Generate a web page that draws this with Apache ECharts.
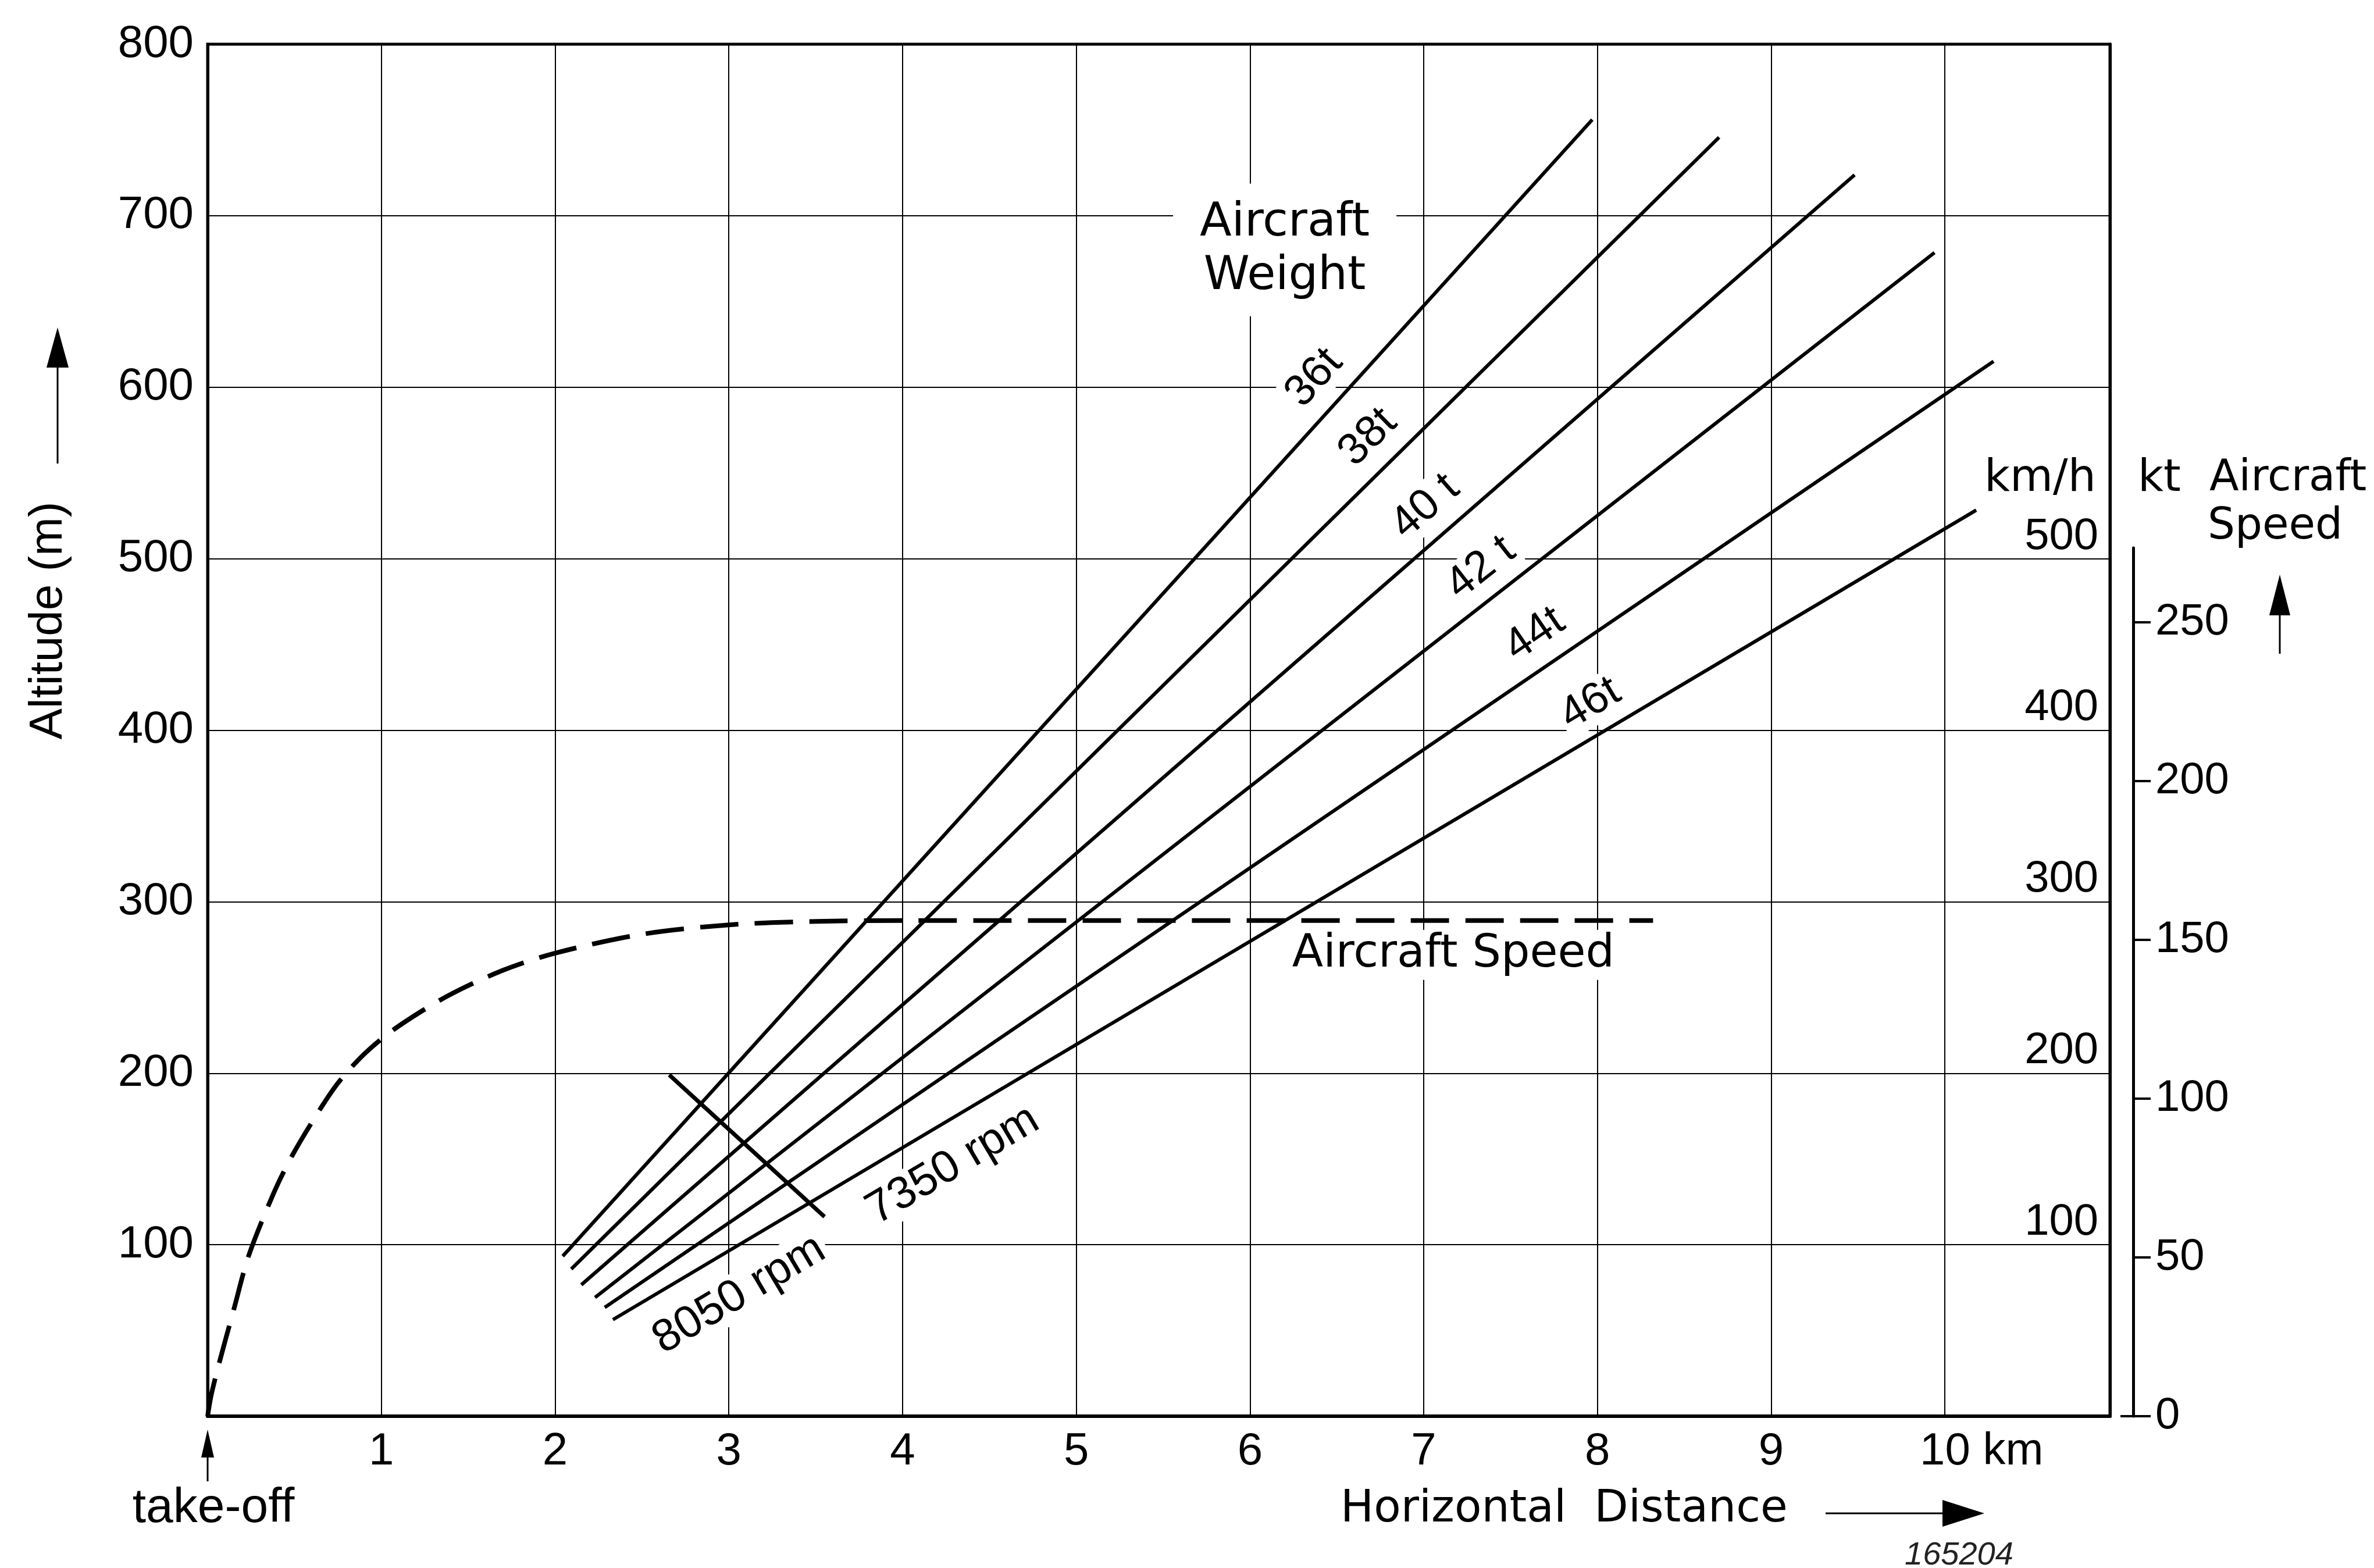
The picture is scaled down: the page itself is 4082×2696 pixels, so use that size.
<!DOCTYPE html>
<html>
<head>
<meta charset="utf-8">
<title>Take-off climb paths</title>
<script src="https://cdn.jsdelivr.net/npm/echarts@6/dist/echarts.min.js"></script>
<style>
  html, body { margin: 0; padding: 0; background: #fff; }
  #chart { width: 4082px; height: 2696px; }
</style>
</head>
<body>
<div id="chart"></div>
<script>
// climb path per aircraft weight: [km, m]
var weightNames = ['36t', '38t', '40 t', '42 t', '44t', '46t'];
var weightStart = [[2.044, 93.3], [2.093, 85.8], [2.151, 76.6], [2.230, 69.2], [2.286, 63.4], [2.333, 56.3]];
var weightEnd = [[7.97, 756], [8.70, 745.7], [9.48, 723.8], [9.94, 678.5], [10.28, 615.1], [10.18, 528.3]];

// aircraft speed (km/h, same scale as altitude in m) against distance (km)
var speedDist = [0, 0.02, 0.064, 0.15, 0.236, 0.38, 0.487, 0.641, 0.756, 0.91, 1.093, 1.381, 1.7, 2.0, 2.5, 3.0, 3.5, 4.0, 8.32];
var speedKmh = [0, 12, 30, 62, 93.5, 130, 152, 178, 195, 212, 227, 245, 260, 270, 281, 286.5, 288.5, 289, 289];

// rpm change-over line
var rpmLine = [[2.657, 199], [3.551, 116.3]];
var rpmNames = ['8050 rpm', '7350 rpm'];

var kmhTicks = [100, 200, 300, 400, 500];
var ktTicks = [0, 50, 100, 150, 200, 250];
var KMH_PER_KT = 1.852;
var KT_TOP = 273.4;

// where the annotations sit (data coords)
var weightLabelAt = [[6.37, 605.3], [6.68, 570.7], [7.01, 530.3], [7.33, 494.5], [7.64, 455.8], [7.96, 415.4]];
var rpmLabelAt = [[3.06, 70.9], [4.29, 146.3]];

var G = {left: 357, top: 76, width: 3271, height: 2359};
var X_MAX = 10.95, Y_MAX = 800;
var pxKm = G.width / X_MAX, pxM = G.height / Y_MAX;
var ktHeight = KT_TOP * KMH_PER_KT * pxM;

var FONT = 'Liberation Sans';
var FONT_WIDE = 'DejaVu Sans';

function slopeDeg(a, b) {
    return Math.atan2((b[1] - a[1]) * pxM, (b[0] - a[0]) * pxKm) * 180 / Math.PI;
}

var notes = [];
weightNames.forEach(function (n, i) {
    notes.push({name: n, value: weightLabelAt[i], label: {rotate: slopeDeg(weightStart[i], weightEnd[i])}});
});
rpmNames.forEach(function (n, i) {
    notes.push({name: n, value: rpmLabelAt[i], label: {rotate: slopeDeg(weightStart[5], weightEnd[5]), fontSize: 78}});
});
notes.push({name: 'Aircraft\nWeight', value: [6.20, 680],
    label: {fontFamily: FONT_WIDE, fontSize: 80, lineHeight: 92, padding: [22, 46]}});
notes.push({name: 'Aircraft Speed', value: [7.17, 269],
    label: {fontFamily: FONT_WIDE, fontSize: 78, padding: [4, 14]}});

var series = [];
series.push({
    type: 'line',
    name: 'speed',
    data: speedDist.map(function (d, i) { return [d, speedKmh[i]]; }),
    smooth: 0.3,
    symbol: 'none',
    silent: true,
    lineStyle: {color: '#000', width: 8, type: [66, 28]},
    z: 2
});
weightNames.forEach(function (n, i) {
    series.push({
        type: 'line',
        name: n,
        data: [weightStart[i], weightEnd[i]],
        symbol: 'none',
        silent: true,
        lineStyle: {color: '#000', width: 6},
        z: 3
    });
});
series.push({
    type: 'line',
    name: 'rpm',
    data: rpmLine,
    symbol: 'none',
    silent: true,
    lineStyle: {color: '#000', width: 7},
    z: 3
});
series.push({
    type: 'scatter',
    name: 'notes',
    data: notes,
    symbolSize: 1,
    silent: true,
    itemStyle: {color: 'rgba(0,0,0,0)', opacity: 1},
    label: {
        show: true,
        position: 'inside',
        formatter: '{b}',
        color: '#000',
        opacity: 1,
        fontFamily: FONT,
        fontSize: 76,
        align: 'center',
        verticalAlign: 'middle',
        backgroundColor: '#fff',
        padding: [0, 6]
    },
    z: 10
});

function txt(x, y, text, size, family, align, extra) {
    var el = {
        type: 'text', x: x, y: y, silent: true,
        style: {
            text: text, fill: '#000', fontSize: size, fontFamily: family,
            textAlign: align, align: align, textVerticalAlign: 'middle', verticalAlign: 'middle'
        }
    };
    if (extra) { for (var k in extra) el[k] = extra[k]; }
    return el;
}
function seg(x1, y1, x2, y2, w) {
    return {type: 'line', silent: true, shape: {x1: x1, y1: y1, x2: x2, y2: y2},
        style: {stroke: '#000', lineWidth: w}};
}
function head(points) {
    return {type: 'polygon', silent: true, shape: {points: points}, style: {fill: '#000'}};
}

var graphics = [
    txt(84, 1067, 'Altitude (m)', 80, FONT, 'center', {rotation: Math.PI / 2}),
    seg(99, 797, 99, 620, 3),
    head([[99, 563], [80, 632], [118, 632]]),
    txt(2305, 2596, 'Horizontal  Distance', 76, FONT_WIDE, 'left'),
    seg(3139, 2602, 3345, 2602, 3),
    head([[3412, 2602], [3340, 2579], [3340, 2625]]),
    txt(367, 2594, 'take-off', 84, FONT, 'center'),
    seg(357, 2547, 357, 2500, 3),
    head([[357, 2458], [346, 2506], [368, 2506]]),
    txt(3275, 2674, '165204', 56, FONT, 'left', {style: {text: '165204', fill: '#222', fontSize: 56, fontFamily: FONT, fontStyle: 'italic', textAlign: 'left', align: 'left', textVerticalAlign: 'middle', verticalAlign: 'middle'}}),
    txt(3412, 824, 'km/h', 76, FONT_WIDE, 'left'),
    txt(3676, 824, 'kt', 76, FONT_WIDE, 'left'),
    txt(3799, 824, 'Aircraft', 74, FONT_WIDE, 'left'),
    txt(3796, 907, 'Speed', 74, FONT_WIDE, 'left'),
    seg(3920, 1124, 3920, 1050, 3),
    head([[3920, 988], [3902, 1058], [3938, 1058]]),
    seg(3646, G.top + G.height, 3668, G.top + G.height, 4)
];

var chart = echarts.init(document.getElementById('chart'), null, {renderer: 'canvas'});
chart.setOption({
    backgroundColor: '#fff',
    animation: false,
    textStyle: {fontFamily: FONT, color: '#000'},
    grid: [
        {left: G.left, top: G.top, width: G.width, height: G.height, show: true,
            borderColor: '#000', borderWidth: 5, backgroundColor: 'transparent',
            containLabel: false, outerBoundsMode: 'none'},
        {left: G.left + G.width - 68, top: G.top + G.height - ktHeight, width: 108, height: ktHeight,
            show: false, containLabel: false, outerBoundsMode: 'none'}
    ],
    xAxis: [
        {
            type: 'value', gridIndex: 0, min: 0, max: X_MAX, interval: 1,
            axisLine: {show: true, onZero: false, lineStyle: {color: '#000', width: 6}},
            axisTick: {show: false},
            splitLine: {show: true, lineStyle: {color: '#000', width: 2}},
            axisLabel: {
                color: '#000', fontFamily: FONT, fontSize: 78, margin: 22,
                formatter: function (v) {
                    if (v === 0 || v > 10) return '';
                    if (v === 10) return '{ten|10 km}';
                    return String(v);
                },
                rich: {ten: {padding: [0, 0, 0, 126], fontSize: 78, fontFamily: FONT, color: '#000'}}
            }
        },
        {type: 'value', gridIndex: 1, min: 0, max: 1, show: false}
    ],
    yAxis: [
        {
            type: 'value', gridIndex: 0, position: 'left', min: 0, max: Y_MAX, interval: 100,
            axisLine: {show: true, onZero: false, lineStyle: {color: '#000', width: 5}},
            axisTick: {show: false},
            splitLine: {show: true, lineStyle: {color: '#000', width: 2}},
            axisLabel: {
                color: '#000', fontFamily: FONT, fontSize: 78, margin: 24,
                formatter: function (v) { return v === 0 ? '' : String(v); }
            }
        },
        {
            type: 'value', gridIndex: 0, position: 'right', min: 0, max: Y_MAX, interval: 100,
            axisLine: {show: true, onZero: false, lineStyle: {color: '#000', width: 5}},
            axisTick: {show: false},
            splitLine: {show: false},
            axisLabel: {
                inside: true, margin: 20, verticalAlign: 'bottom',
                color: '#000', fontFamily: FONT, fontSize: 76,
                formatter: function (v) { return kmhTicks.indexOf(v) >= 0 ? String(v) : ''; }
            }
        },
        {
            type: 'value', gridIndex: 1, position: 'right', min: 0, max: KT_TOP, interval: 50,
            axisLine: {show: true, onZero: false, lineStyle: {color: '#000', width: 5}},
            axisTick: {show: true, length: 30, lineStyle: {color: '#000', width: 4},
                customValues: ktTicks},
            splitLine: {show: false},
            axisLabel: {
                color: '#000', fontFamily: FONT, fontSize: 76, margin: 38,
                customValues: ktTicks,
                formatter: function (v) { return ktTicks.indexOf(v) >= 0 ? String(v) : ''; }
            }
        }
    ],
    series: series,
    graphic: graphics
});
</script>
</body>
</html>
